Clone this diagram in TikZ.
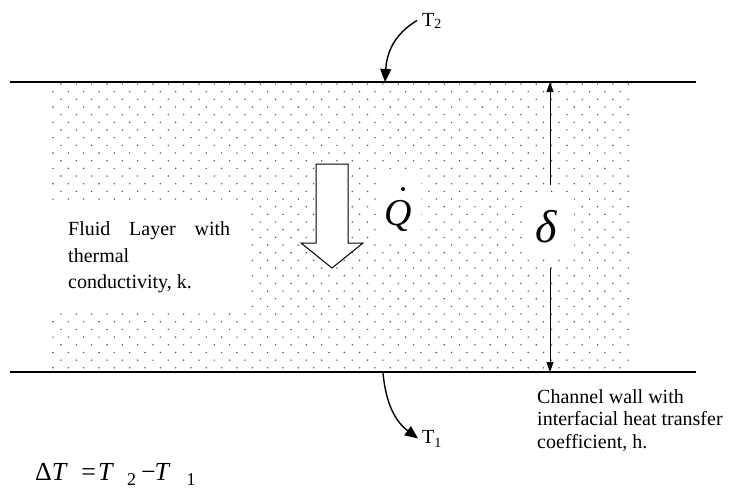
\documentclass[tikz,border=0pt]{standalone}
\usepackage{fontspec}
\setmainfont{Liberation Serif}
\usetikzlibrary{arrows.meta}
\begin{document}
\begin{tikzpicture}[x=1pt,y=-1pt,
  wall/.style={line width=1.6pt},
  dotc/.style={fill=black!70},
  mask/.style={fill=white, draw=none},
  gaparrow/.style={line width=0.9pt, -{Triangle[length=10pt,width=7pt]}},
  tarrow/.style={line width=1.4pt, -{Triangle[length=13pt,width=11pt]}},
  lbl/.style={inner sep=0pt, font=\fontsize{20}{24}\selectfont},
  para/.style={inner sep=0pt, anchor=north west, align=left},
]
\useasboundingbox (0,0) rectangle (730,488);
% dotted fluid layer
\foreach \r in {0,...,37}{
  \pgfmathsetmacro{\yy}{84+7.67*\r}
  \pgfmathsetmacro{\xs}{61-8*mod(\r,2)}
  \foreach \c in {0,...,37}{
    \fill[dotc] ({\xs+15.33*\c},\yy) circle (0.8pt);
  }
}
% white text backgrounds
\fill[mask] (40,202) rectangle (249,310);
\fill[mask] (378,172) rectangle (421,241);
\fill[mask] (526,195) rectangle (574,258);
% walls
\coordinate (wl1) at (10,82);  \coordinate (wr1) at (696,82);
\coordinate (wl2) at (10,372); \coordinate (wr2) at (696,372);
\draw[wall] (wl1) -- (wr1);
\draw[wall] (wl2) -- (wr2);
% thickness arrows
\coordinate (dtop) at (550,82);  \coordinate (dgt) at (550,185);
\coordinate (dbot) at (550,372); \coordinate (dgb) at (550,268);
\draw[gaparrow] (dgt) -- (dtop);
\draw[gaparrow] (dgb) -- (dbot);
% heat flow arrow
\draw[line width=1pt, fill=white] (316,164) -- (348,164) -- (348,243) -- (363,243)
  -- (332,268) -- (301,243) -- (316,243) -- cycle;
% labels
\node[lbl, anchor=base west] (t2) at (422,26) {T\raisebox{-2pt}{\fontsize{14}{14}\selectfont 2}};
\node[lbl, anchor=base west] (t1) at (422,443) {T\raisebox{-4pt}{\fontsize{14}{14}\selectfont 1}};
\coordinate (t2end) at (385,82);
\coordinate (t1start) at (383,373);
\draw[tarrow] ([xshift=-5pt]t2.west) .. controls (398,32) and (387,48) .. (t2end);
\draw[tarrow] (t1start) .. controls (386,405) and (396,422) .. ([xshift=-4pt]t1.west);
\node[para, font=\fontsize{20}{26.7}\selectfont] (fluid) at (68,221.3)
  {\makebox[162pt][s]{Fluid Layer with}\\thermal\\conductivity, k.};
\node[para, font=\fontsize{20}{22.5}\selectfont] (chan) at (537,389.3)
  {Channel wall with\\interfacial heat transfer\\coefficient, h.};
\node[inner sep=0pt, anchor=base, font=\fontsize{38}{40}\selectfont\itshape] (q) at (398,225) {Q};
\fill (403,189) circle (2pt);
\node[inner sep=0pt, anchor=base, font=\fontsize{46}{48}\selectfont\itshape] (delta) at (546,242) {δ};
\node[inner sep=0pt, anchor=base west, font=\fontsize{26}{30}\selectfont] (dt) at (35,480)
  {Δ\textit{T}\hspace{13.5pt}=\hspace{2pt}\textit{T}\hspace{13pt}\raisebox{-5pt}{\fontsize{18}{18}\selectfont 2}\hspace{5pt}−\hspace{-1pt}\textit{T}\hspace{16pt}\raisebox{-5pt}{\fontsize{18}{18}\selectfont 1}};
\end{tikzpicture}
\end{document}
